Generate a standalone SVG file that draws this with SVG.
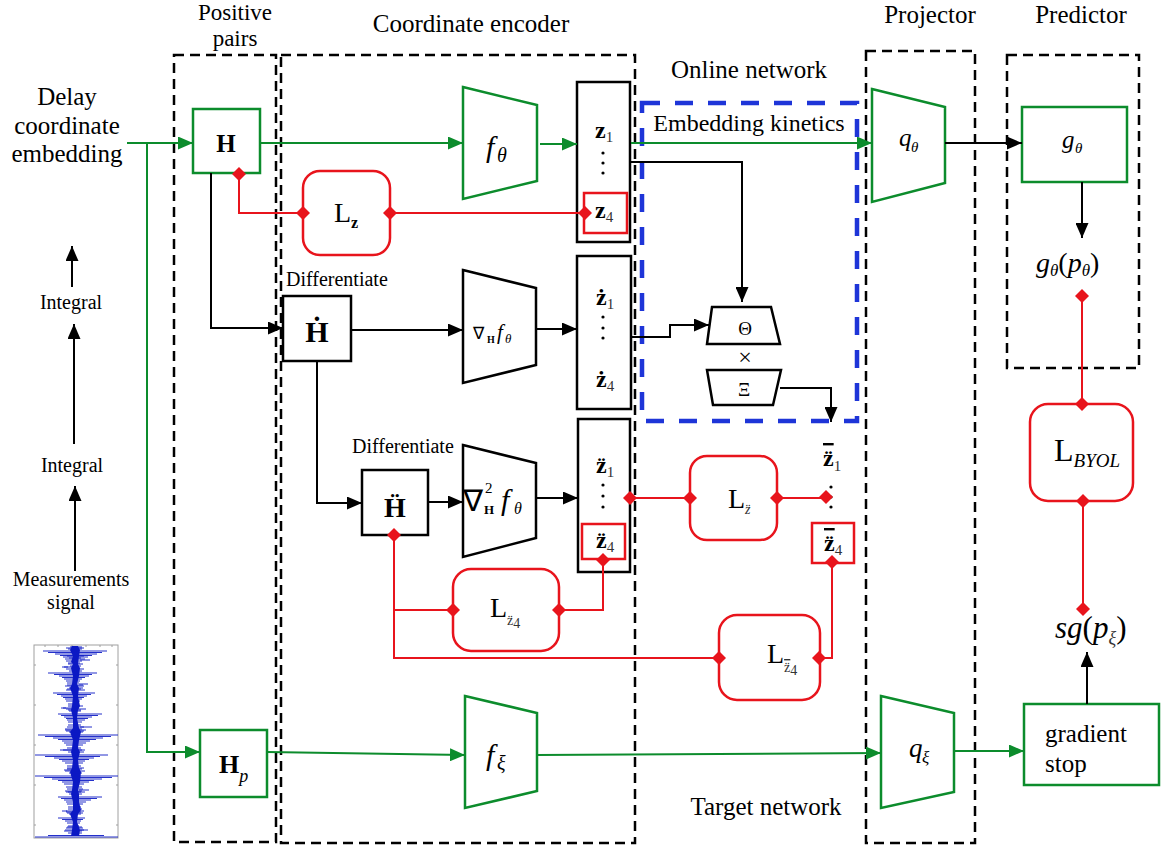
<svg xmlns="http://www.w3.org/2000/svg" xmlns:xlink="http://www.w3.org/1999/xlink" width="1161" height="847" viewBox="0 0 1161 847">
  <style>
    text { font-family: "Liberation Serif", "Times New Roman", serif; }
    .t { fill: #000; }
    .it { font-style: italic; }
    .b { font-weight: bold; }
    .sub { fill: #333; }
    .frame { fill: none; stroke: #000; stroke-width: 2.5; stroke-dasharray: 10 6; }
    .bframe { fill: none; stroke: #1e35d8; stroke-width: 4.5; stroke-dasharray: 18 15; }
    .gbox { fill: #fff; stroke: #0c8c2c; stroke-width: 2.5; }
    .kbox { fill: #fff; stroke: #000; stroke-width: 2.5; }
    .rbox { fill: #fff; stroke: #e8141c; stroke-width: 2.5; }
    .rsq { fill: none; stroke: #e8141c; stroke-width: 2.5; }
    .g { fill: none; stroke: #0c8c2c; stroke-width: 2; }
    .k { fill: none; stroke: #000; stroke-width: 2; }
    .r { fill: none; stroke: #e8141c; stroke-width: 2; }
    .ga { marker-end: url(#ah-g); }
    .ka { marker-end: url(#ah-k); }
    .dot { fill: #000; }
    .bar { text-decoration: overline; }
  </style>
  <defs>
    <marker id="ah-g" viewBox="0 0 15 13" refX="15" refY="6.5" markerWidth="15" markerHeight="13" markerUnits="userSpaceOnUse" orient="auto">
      <path d="M0 0L15 6.5L0 13z" fill="#0c8c2c"/>
    </marker>
    <marker id="ah-k" viewBox="0 0 15 13" refX="15" refY="6.5" markerWidth="15" markerHeight="13" markerUnits="userSpaceOnUse" orient="auto">
      <path d="M0 0L15 6.5L0 13z" fill="#000"/>
    </marker>
    <path id="dia" d="M0 -7L7 0L0 7L-7 0z" fill="#e8141c"/>
  </defs>

  <rect width="1161" height="847" fill="#fff"/>

  <!-- section frames -->
  <g id="frames">
    <rect class="frame" x="174" y="55" width="102" height="787"/>
    <rect class="frame" x="281" y="55" width="354" height="788"/>
    <rect class="frame" x="866" y="51" width="109" height="792"/>
    <rect class="frame" x="1007" y="55" width="132" height="313"/>
    <rect class="bframe" x="642" y="103" width="215" height="318"/>
  </g>

  <!-- section titles -->
  <g id="titles" class="t" font-size="25" text-anchor="middle">
    <text x="235" y="20" font-size="23">Positive</text>
    <text x="235" y="46" font-size="23">pairs</text>
    <text x="471" y="32">Coordinate encoder</text>
    <text x="930" y="23">Projector</text>
    <text x="1081" y="23">Predictor</text>
    <text x="749" y="78">Online network</text>
    <text x="749" y="131" font-size="24">Embedding kinetics</text>
    <text x="766" y="815">Target network</text>
  </g>

  <!-- input labels -->
  <g id="input-labels" class="t" text-anchor="middle">
    <text x="67" y="105" font-size="25">Delay</text>
    <text x="67" y="134" font-size="25">coordinate</text>
    <text x="67" y="162" font-size="25">embedding</text>
    <text x="71" y="309" font-size="20">Integral</text>
    <text x="72" y="472" font-size="20">Integral</text>
    <text x="71" y="586" font-size="20">Measurements</text>
    <text x="71" y="609" font-size="20">signal</text>
  </g>

  <!-- measured vibration record -->
  <g id="signal">
    <rect x="34" y="645" width="84" height="193" fill="#fff" stroke="#a0a0a0" stroke-width="1"/>
    <path d="M45 645v2M58 645v2M72 645v2M86 645v2M100 645v2M112 645v2M34 665h2M34 705h2M34 745h2M34 785h2M34 825h2M118 665h-2M118 705h-2M118 745h-2M118 785h-2M118 825h-2" stroke="#a0a0a0" stroke-width="1"/>
    <path d="M72 646L70 650L73 656L71 662L73 664L71 668L73 676L72 684L70 688L73 696L72 706L71 710L73 718L73 728L70 732L73 740L72 748L71 752L73 760L72 768L70 772L73 782L72 790L71 794L73 802L73 810L70 814L73 822L72 830L71 836L79 836L80 830L77 822L78 814L81 810L79 802L79 794L78 790L80 782L81 772L79 768L78 760L80 752L78 748L79 740L81 732L79 728L77 718L78 710L80 706L78 696L79 688L77 684L79 676L80 668L78 664L79 656L80 650L78 646z" fill="#0b18c4"/>
    <path stroke="#0b18c4" stroke-width="0.9" fill="none" d="
      M43 651h64M48 652.5h54M55 654h42M60 655.5h32M63 657h25M65 659h20M66 661h16M68 663h12
      M48 673h49M54 674.5h38M59 676h30M62 677.5h23M64 679h18M66 681h14M67 683h12
      M53 693h42M57 694.5h34M61 696h26M63 697.5h21M65 699h17M66 701h14M68 704h11
      M58 714h44M61 715.5h37M64 717h28M66 718.5h22M67 720h18M68 722h14M68 725h13
      M38 735h80M45 736.5h66M53 738h50M58 739.5h38M62 741h28M64 743h22M66 745h17M67 748h14
      M35 755h73M45 756.5h55M54 758h40M59 759.5h30M62 761h23M65 763h18M67 766h14
      M35 776h83M44 777.5h68M52 779h50M58 780.5h36M62 782h27M64 784h20M66 787h16
      M58 797h44M61 798.5h36M64 800h27M66 802h20M67 804h16M68 807h13
      M58 818h27M62 819.5h21M65 821h16M67 823h13M68 826h11
      M48 835.5h56M35 837h83
      M66 648h18M64 667h15M65 686h19M63 708h16M65 729h17M63 750h19M64 770h16M65 791h17M66 812h15M64 831h18
      M67 689h14M68 710h13M66 731h18M67 769h15M68 792h13M67 813h16M66 828h17
      M70 647h12M68 649h14M67 656h17M69 658h12M68 664h15M70 666h11M66 669h18M69 671h13
      M67 685h16M69 688h14M66 690h19M68 706h15M66 709h20M69 711h12M67 727h17M65 730h21M69 732h14
      M66 750h19M68 752h16M67 768h17M65 771h20M69 773h13M67 789h16M66 792h19M69 794h13
      M68 809h14M66 811h18M69 814h12M67 827h15M65 830h19M68 833h14
      M80 660h10M79 684h9M80 727h12M79 790h10M80 830h8M62 667h6M61 708h5M60 750h6M62 811h5"/>
  </g>

  <g id="nodes">
  <g id="node-H">
    <rect class="gbox" x="193" y="109" width="67" height="64"/>
    <text class="t b" x="226" y="152" font-size="25" text-anchor="middle">H</text>
  </g>
  <g id="node-Hp">
    <rect class="gbox" x="200" y="730" width="67" height="67"/>
    <text class="t" x="219" y="773"><tspan class="b" font-size="26">H</tspan><tspan class="it" font-size="18" dy="9">p</tspan></text>
  </g>
  <g id="node-Hdot">
    <text class="t" x="286" y="286" font-size="20">Differentiate</text>
    <rect class="kbox" x="283" y="296" width="68" height="65"/>
    <text class="t b" x="317" y="342" font-size="30" text-anchor="middle">Ḣ</text>
  </g>
  <g id="node-Hddot">
    <text class="t" x="352" y="453" font-size="20">Differentiate</text>
    <rect class="kbox" x="362" y="470" width="66" height="65"/>
    <text class="t b" x="395" y="517" font-size="28" text-anchor="middle">Ḧ</text>
  </g>
  <g id="node-f-theta">
    <path class="gbox" d="M463 87L537 105L537 181L463 199z"/>
    <text class="t it" x="486" y="157" font-size="30">f</text>
    <text class="t it" x="497" y="162" font-size="20">θ</text>
  </g>
  <g id="node-grad-f">
    <path class="kbox" d="M463 270L536 288L536 365L463 383z"/>
    <text class="t" x="473" y="339" font-size="17">∇</text>
    <text class="t b" x="487" y="343" font-size="10">H</text>
    <text class="t it" x="497" y="339" font-size="21">f</text>
    <text class="t it" x="505" y="343" font-size="13">θ</text>
  </g>
  <g id="node-grad2-f">
    <path class="kbox" d="M463 445L536 463L536 538L463 557z"/>
    <text class="t" x="463" y="511" font-size="30">∇</text>
    <text class="t" x="485" y="493" font-size="15">2</text>
    <text class="t b" x="484" y="514" font-size="13">H</text>
    <text class="t it" x="501" y="510" font-size="30">f</text>
    <text class="t it" x="514" y="514" font-size="16">θ</text>
  </g>
  <g id="node-f-xi">
    <path class="gbox" d="M465 696L537 713L537 791L465 808z"/>
    <text class="t it" x="486" y="765" font-size="30">f</text>
    <text class="t it" x="497" y="770" font-size="20">ξ</text>
  </g>
  <g id="node-z">
    <rect class="kbox" x="577" y="82" width="53" height="160"/>
    <text class="t" x="595" y="138"><tspan class="b" font-size="24">z</tspan><tspan class="sub" font-size="15" dy="4">1</tspan></text>
    <circle class="dot" cx="603" cy="153" r="1.6"/><circle class="dot" cx="603" cy="163" r="1.6"/><circle class="dot" cx="603" cy="173" r="1.6"/>
    <rect class="rsq" x="584" y="193" width="43" height="40"/>
    <text class="t" x="595" y="218"><tspan class="b" font-size="24">z</tspan><tspan class="sub" font-size="15" dy="4">4</tspan></text>
  </g>
  <g id="node-zdot">
    <rect class="kbox" x="577" y="256" width="54" height="153"/>
    <text class="t" x="596" y="305"><tspan class="b" font-size="24">ż</tspan><tspan class="sub" font-size="15" dy="4">1</tspan></text>
    <circle class="dot" cx="603" cy="317" r="1.6"/><circle class="dot" cx="603" cy="328" r="1.6"/><circle class="dot" cx="603" cy="338" r="1.6"/>
    <text class="t" x="596" y="387"><tspan class="b" font-size="24">ż</tspan><tspan class="sub" font-size="15" dy="4">4</tspan></text>
  </g>
  <g id="node-zddot">
    <rect class="kbox" x="578" y="419" width="52" height="153"/>
    <text class="t" x="596" y="473"><tspan class="b" font-size="24">z̈</tspan><tspan class="sub" font-size="15" dy="4">1</tspan></text>
    <circle class="dot" cx="603" cy="485" r="1.6"/><circle class="dot" cx="603" cy="496" r="1.6"/><circle class="dot" cx="603" cy="507" r="1.6"/>
    <rect class="rsq" x="582" y="524" width="43" height="35"/>
    <text class="t" x="596" y="548"><tspan class="b" font-size="24">z̈</tspan><tspan class="sub" font-size="15" dy="4">4</tspan></text>
  </g>
  <g id="node-zddot-bar">
    <text class="t" x="823" y="466"><tspan class="b bar" font-size="24">z̈</tspan><tspan class="sub" font-size="15" dy="5">1</tspan></text>
    <circle class="dot" cx="831" cy="487" r="1.6"/><circle class="dot" cx="831" cy="497" r="1.6"/><circle class="dot" cx="831" cy="507" r="1.6"/>
    <rect class="rsq" x="812" y="523" width="42" height="40"/>
    <text class="t" x="824" y="551"><tspan class="b bar" font-size="24">z̈</tspan><tspan class="sub" font-size="15" dy="4">4</tspan></text>
  </g>
  <g id="node-theta-xi">
    <path class="kbox" d="M712 307L771 307L780 344L707 344z"/>
    <text class="t" x="745" y="335" font-size="19" text-anchor="middle">Θ</text>
    <text class="t" x="745" y="365" font-size="24" text-anchor="middle">×</text>
    <path class="kbox" d="M707 370L781 370L773 405L713 405z"/>
    <text class="t" x="744" y="396" font-size="19" text-anchor="middle">Ξ</text>
  </g>
  <g id="node-Lz">
    <rect class="rbox" x="303" y="171" width="87" height="84" rx="17"/>
    <text class="t" x="334" y="222"><tspan font-size="28">L</tspan><tspan class="b" font-size="16" dy="6">z</tspan></text>
  </g>
  <g id="node-Lzddot">
    <rect class="rbox" x="690" y="456" width="87" height="84" rx="17"/>
    <text class="t" x="728" y="508"><tspan font-size="28">L</tspan><tspan class="it sub" font-size="14" dy="6">z̈</tspan></text>
  </g>
  <g id="node-Lzddot4">
    <rect class="rbox" x="453" y="569" width="106" height="82" rx="18"/>
    <text class="t" x="490" y="617"><tspan font-size="28">L</tspan><tspan class="sub" font-size="14" dy="8">z̈</tspan><tspan class="sub" font-size="14" dy="3">4</tspan></text>
  </g>
  <g id="node-Lzddot4-bar">
    <rect class="rbox" x="719" y="615" width="101" height="85" rx="18"/>
    <text class="t" x="767" y="663"><tspan font-size="28">L</tspan><tspan class="sub bar" font-size="14" dy="9">z̈</tspan><tspan class="sub" font-size="14" dy="3">4</tspan></text>
  </g>
  <g id="node-q-theta">
    <path class="gbox" d="M872 89L945 107L945 183L872 202z"/>
    <text class="t it" x="899" y="146" font-size="25">q</text>
    <text class="t it" x="911" y="152" font-size="15">θ</text>
  </g>
  <g id="node-q-xi">
    <path class="gbox" d="M881 696L954 713L954 792L881 808z"/>
    <text class="t it" x="909" y="757" font-size="27">q</text>
    <text class="t it" x="922" y="763" font-size="17">ξ</text>
  </g>
  <g id="node-g-theta">
    <rect class="gbox" x="1022" y="107" width="105" height="75"/>
    <text class="t it" x="1062" y="148" font-size="25">g</text>
    <text class="t it" x="1075" y="153" font-size="15">θ</text>
  </g>
  <g id="node-g-output">
    <text class="t" x="1036" y="272"><tspan class="it" font-size="28">g</tspan><tspan class="it" font-size="17" dy="4">θ</tspan><tspan font-size="28" dy="-4">(</tspan><tspan class="it" font-size="28">p</tspan><tspan class="it" font-size="17" dy="4">θ</tspan><tspan font-size="28" dy="-4">)</tspan></text>
  </g>
  <g id="node-LBYOL">
    <rect class="rbox" x="1030" y="404" width="103" height="97" rx="18"/>
    <text class="t" x="1054" y="461"><tspan font-size="32">L</tspan><tspan class="it" font-size="19" dy="6">BYOL</tspan></text>
  </g>
  <g id="node-sg">
    <text class="t" x="1055" y="638"><tspan class="it" font-size="31">sg</tspan><tspan font-size="31">(</tspan><tspan class="it" font-size="31">p</tspan><tspan class="it sub" font-size="18" dy="6">ξ</tspan><tspan font-size="31" dy="-6">)</tspan></text>
  </g>
  <g id="node-gradient-stop">
    <rect class="gbox" x="1024" y="704" width="135" height="81"/>
    <text class="t" x="1045" y="742" font-size="25">gradient</text>
    <text class="t" x="1045" y="772" font-size="25">stop</text>
  </g>
  </g>

  <!-- connectors -->
  <g id="connectors">
    <path class="g ga" d="M127 143H193"/>
    <path class="g ga" d="M147 143V752H200"/>
    <path class="g ga" d="M260 143H463"/>
    <path class="g ga" d="M540 144H577"/>
    <path class="g ga" d="M631 143H872"/>
    <path class="g ga" d="M267 752L465 755"/>
    <path class="g ga" d="M537 755L881 753"/>
    <path class="g ga" d="M954 751H1024"/>

    <path class="k ka" d="M945 143H1022"/>
    <path class="k ka" d="M1082 182V238"/>
    <path class="k ka" d="M1087 704V652"/>
    <path class="k ka" d="M211 173V328H283"/>
    <path class="k ka" d="M352 330H463"/>
    <path class="k ka" d="M536 329H577"/>
    <path class="k ka" d="M317 361V503H362"/>
    <path class="k ka" d="M428 502H463"/>
    <path class="k ka" d="M536 498H578"/>
    <path class="k ka" d="M631 162H742V302"/>
    <path class="k ka" d="M631 337H670V325H709"/>
    <path class="k ka" d="M780 388H831V422"/>
    <path class="k ka" d="M72 287V246"/>
    <path class="k ka" d="M74 444V324"/>
    <path class="k ka" d="M75 571V486"/>

    <path class="r" d="M239 174V213H303"/>
    <path class="r" d="M390 213H585"/>
    <path class="r" d="M630 498H690"/>
    <path class="r" d="M777 498H826"/>
    <path class="r" d="M832 562V658H819"/>
    <path class="r" d="M719 658H394V535"/>
    <path class="r" d="M394 610H453"/>
    <path class="r" d="M559 610H603V560"/>
    <path class="r" d="M1082 296V404"/>
    <path class="r" d="M1083 501V609"/>

    <use xlink:href="#dia" x="239" y="174"/>
    <use xlink:href="#dia" x="303" y="213"/>
    <use xlink:href="#dia" x="390" y="213"/>
    <use xlink:href="#dia" x="585" y="213"/>
    <use xlink:href="#dia" x="394" y="535"/>
    <use xlink:href="#dia" x="603" y="560"/>
    <use xlink:href="#dia" x="630" y="498"/>
    <use xlink:href="#dia" x="690" y="498"/>
    <use xlink:href="#dia" x="777" y="498"/>
    <use xlink:href="#dia" x="826" y="497"/>
    <use xlink:href="#dia" x="832" y="562"/>
    <use xlink:href="#dia" x="819" y="658"/>
    <use xlink:href="#dia" x="719" y="658"/>
    <use xlink:href="#dia" x="453" y="610"/>
    <use xlink:href="#dia" x="559" y="610"/>
    <use xlink:href="#dia" x="1082" y="296"/>
    <use xlink:href="#dia" x="1082" y="404"/>
    <use xlink:href="#dia" x="1083" y="501"/>
    <use xlink:href="#dia" x="1083" y="609"/>
  </g>
</svg>
